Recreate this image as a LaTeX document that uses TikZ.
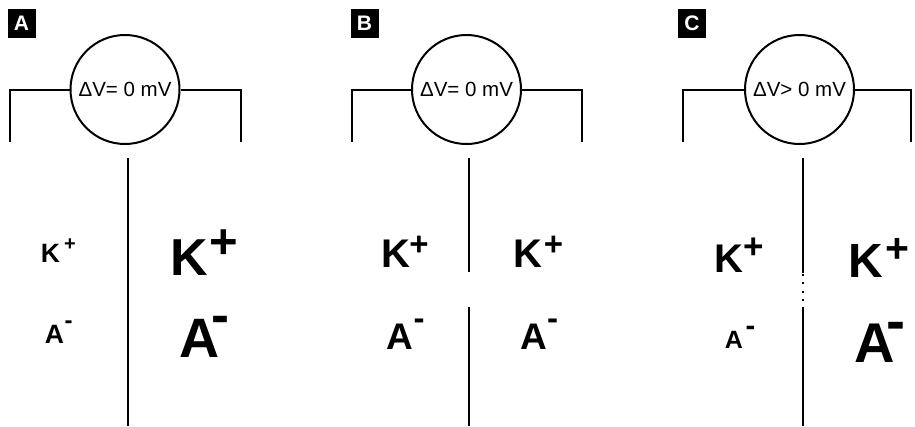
\documentclass[tikz,border=0pt]{standalone}
\usepackage{fontspec}
\setmainfont{Liberation Sans}
\newcommand\fsz[1]{\fontsize{#1}{#1}\selectfont}
\begin{document}
\begin{tikzpicture}[x=1pt,y=-1pt,
  wire/.style={line width=2pt},
  meter/.style={circle,draw,line width=2pt,minimum size=109pt,inner sep=0pt,font=\fsz{20.5}},
  ion/.style={inner sep=0pt,anchor=base,font=\bfseries\fsz{#1}},
  tag/.style={fill=black,text=white,font=\bfseries\fsz{21},inner sep=0pt,minimum width=28pt,minimum height=29pt}]
\useasboundingbox (0,0) rectangle (915,426);

% ---------- Panel A ----------
\node[tag] (tA) at (21.5,23.5) {A};
\node[meter] (mA) at (125,89.5) {ΔV= 0 mV};
\coordinate (aL) at (9.5,89.5);  \coordinate (aLb) at (9.5,142);
\coordinate (aR) at (240.5,89.5); \coordinate (aRb) at (240.5,142);
\draw[wire] (mA.west) -- (aL) -- (aLb);
\draw[wire] (mA.east) -- (aR) -- (aRb);
\coordinate (aT) at (127.5,158); \coordinate (aB) at (127.5,426);
\draw[wire] (aT) -- (aB);
\node[ion=26.5] (kA1) at (50.5,262) {K};
\node[ion=20] (pA1) at (70,250) {+};
\node[ion=52] (kA2) at (189.5,275) {K};
\node[ion=49] (pA2) at (223.7,258.8) {+};
\node[ion=26.5] (aA1) at (54.5,343) {A};
\node[ion=24] (nA1) at (68.7,328) {-};
\node[ion=55.5,anchor=base west] (aA2) at (179,357) {A\kern-7.3pt\raisebox{23.5pt}{\fsz{54}-}};

% ---------- Panel B ----------
\node[tag] (tB) at (364.5,23.5) {B};
\node[meter] (mB) at (466.5,89.5) {ΔV= 0 mV};
\coordinate (bL) at (352,89.5);  \coordinate (bLb) at (352,142);
\coordinate (bR) at (582,89.5);  \coordinate (bRb) at (582,142);
\draw[wire] (mB.west) -- (bL) -- (bLb);
\draw[wire] (mB.east) -- (bR) -- (bRb);
\coordinate (bT) at (469,158); \coordinate (bM1) at (469,272);
\coordinate (bM2) at (469,307); \coordinate (bB) at (469,426);
\draw[wire] (bT) -- (bM1);
\draw[wire] (bM2) -- (bB);
\node[ion=40] (kB1) at (395.5,267) {K};
\node[ion=33] (pB1) at (419,255.2) {+};
\node[ion=40] (kB2) at (528,267) {K};
\node[ion=33] (pB2) at (553.5,255.2) {+};
\node[ion=37] (aB1) at (399.5,349) {A};
\node[ion=33] (nB1) at (419,329) {-};
\node[ion=37] (aB2) at (533.5,349) {A};
\node[ion=33] (nB2) at (552.5,329) {-};

% ---------- Panel C ----------
\node[tag] (tC) at (692,23) {C};
\node[meter] (mC) at (799.5,89.5) {ΔV> 0 mV};
\coordinate (cL) at (683,89.5);  \coordinate (cLb) at (683,142);
\coordinate (cR) at (911,89.5);  \coordinate (cRb) at (911,142);
\draw[wire] (mC.west) -- (cL) -- (cLb);
\draw[wire] (mC.east) -- (cR) -- (cRb);
\coordinate (cT) at (803,158); \coordinate (cM1) at (803,273);
\coordinate (cM0) at (803,274); \coordinate (cM2) at (803,302);
\coordinate (cM3) at (803,307); \coordinate (cB) at (803,426);
\draw[wire] (cT) -- (cM1);
\draw[line width=2pt,dash pattern=on 2pt off 6.3pt] (cM0) -- (cM2);
\draw[wire] (cM3) -- (cB);
\node[ion=40] (kC1) at (729,272) {K};
\node[ion=35] (pC1) at (753.5,258) {+};
\node[ion=48] (kC2) at (866,277) {K};
\node[ion=41] (pC2) at (897,262) {+};
\node[ion=25] (aC1) at (734,348) {A};
\node[ion=29] (nC1) at (750.5,335.5) {-};
\node[ion=56,anchor=base west] (aC2) at (854.3,362) {A\kern-8.2pt\raisebox{21.2pt}{\fsz{57}-}};
\end{tikzpicture}
\end{document}
